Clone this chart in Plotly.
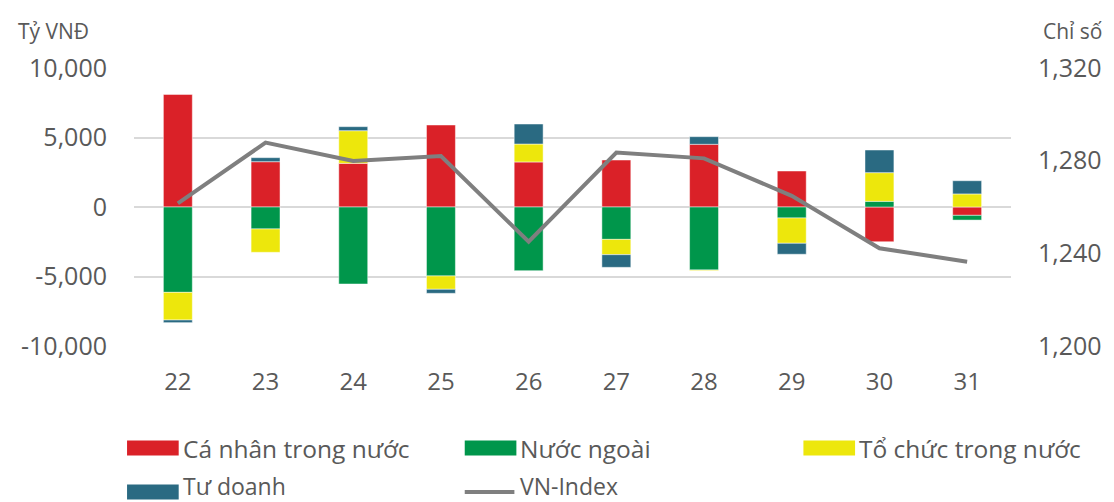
import plotly.graph_objects as go

days = ["22", "23", "24", "25", "26", "27", "28", "29", "30", "31"]
ca_nhan = [8100, 3260, 3140, 5900, 3240, 3380, 4510, 2590, -2500, -600]
nuoc_ngoai = [-6140, -1580, -5540, -4960, -4580, -2330, -4530, -790, 410, -340]
to_chuc = [-1990, -1680, 2350, -960, 1290, -1100, -50, -1820, 2060, 940]
tu_doanh = [-190, 290, 290, -290, 1440, -910, 550, -790, 1630, 950]
vn_index = [1261.6, 1287.8, 1279.9, 1282.0, 1245.0, 1283.5, 1281.0, 1264.8, 1242.2, 1236.4]

left_ticks = [-10000, -5000, 0, 5000, 10000]
left_labels = ["-10,000", "-5,000", "0", "5,000", "10,000"]
right_ticks = [1200, 1240, 1280, 1320]
right_labels = ["1,200", "1,240", "1,280", "1,320"]

names = ["Cá nhân trong nước", "Nước ngoài", "Tổ chức trong nước", "Tư doanh", "VN-Index"]
colors = ["#DA2128", "#00964B", "#EDE70C", "#2A6A82", "#7F7F7F"]

# page body adds an 8px margin; work in reference pixels and shift
OFF = 8
W, H = 1114 - OFF, 502 - OFF
L, R, T, B = 134 - OFF, 1017 - OFF, 68 - OFF, 346 - OFF
FONT = "Open Sans, Roboto, sans-serif"
TXT = "#595959"

fig = go.Figure()
for vals, nm, col in zip([ca_nhan, nuoc_ngoai, to_chuc, tu_doanh], names[:4], colors[:4]):
    fig.add_trace(go.Bar(x=days, y=vals, name=nm, marker_color=col,
                         marker_line=dict(width=0.8, color="rgba(255,255,255,0.6)"),
                         showlegend=False))
fig.add_trace(go.Scatter(x=days, y=vn_index, name=names[4], mode="lines",
                         line=dict(color=colors[4], width=4), yaxis="y2",
                         showlegend=False))

def px_x(p):
    return (p - OFF - L) / (R - L)

def px_y(p):
    return (B - (p - OFF)) / (B - T)

shapes = []
annotations = []
legend_pos = [(127, 448), (467, 448), (808, 448), (127, 492), (467, 492)]
for i, (nm, col) in enumerate(zip(names, colors)):
    x0, yc = legend_pos[i]
    if i < 4:
        shapes.append(dict(type="rect", xref="paper", yref="paper",
                           x0=px_x(x0), x1=px_x(x0 + 52), y0=px_y(yc + 7.5), y1=px_y(yc - 7.5),
                           fillcolor=col, line=dict(width=0)))
    else:
        shapes.append(dict(type="line", xref="paper", yref="paper",
                           x0=px_x(x0), x1=px_x(x0 + 50), y0=px_y(yc), y1=px_y(yc),
                           line=dict(color=col, width=4)))
    row2 = i >= 3
    annotations.append(dict(text=nm, xref="paper", yref="paper",
                            x=px_x(x0 + 54), y=px_y(486 if row2 else yc),
                            xanchor="left", yanchor="middle",
                            showarrow=False,
                            font=dict(family=FONT, size=23 if row2 else 24.5, color=TXT)))

annotations.append(dict(text="Tỷ VNĐ", xref="paper", yref="paper", x=px_x(15), y=px_y(31),
                        xanchor="left", yanchor="middle", showarrow=False,
                        font=dict(family=FONT, size=21, color=TXT)))
annotations.append(dict(text="Chỉ số", xref="paper", yref="paper", x=px_x(1112), y=px_y(31),
                        xanchor="right", yanchor="middle", showarrow=False,
                        font=dict(family=FONT, size=21, color=TXT)))

fig.update_layout(
    width=W, height=H,
    margin=dict(l=L, r=W - R, t=T, b=H - B, pad=0),
    paper_bgcolor="white", plot_bgcolor="white",
    barmode="relative", bargap=0.67,
    font=dict(family=FONT, color=TXT),
    xaxis=dict(type="category", showgrid=False, showline=False, zeroline=False,
               tickfont=dict(size=24, color=TXT), ticks="", ticklabelstandoff=19),
    yaxis=dict(range=[-10000, 10000], tickvals=left_ticks, ticktext=left_labels, showgrid=True,
               gridcolor="#D9D9D9", gridwidth=2, zeroline=False, showline=False,
               tickfont=dict(size=25, color=TXT), ticks="", ticklabelstandoff=26),
    yaxis2=dict(range=[1200, 1320], tickvals=right_ticks, ticktext=right_labels,
                overlaying="y", side="right",
                showgrid=False, zeroline=False, showline=False,
                tickfont=dict(size=25, color=TXT), ticks="", ticklabelstandoff=26),
    shapes=shapes, annotations=annotations, showlegend=False,
)

fig.write_html("out.html")
